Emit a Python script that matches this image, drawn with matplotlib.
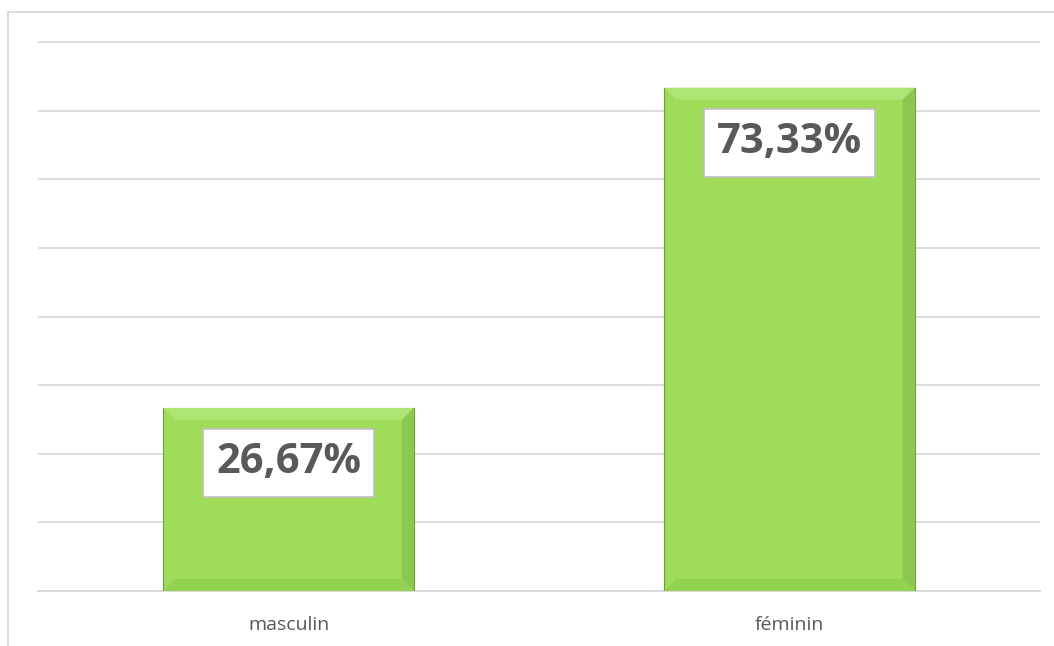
import matplotlib.pyplot as plt
from matplotlib.lines import Line2D
from matplotlib.patches import Polygon

# data
categories = ['masculin', 'féminin']
values = [26.67, 73.33]
labels = ['26,67%', '73,33%']

plt.rcParams['font.family'] = ['Open Sans', 'DejaVu Sans']

fig = plt.figure(figsize=(10.54, 6.46), dpi=100)
ymax = 80.1
px_per_unit = (591 - 42) / 80
ax = fig.add_axes([38 / 1054, 1 - 591 / 646, 1002 / 1054, ymax * px_per_unit / 646])

x = range(len(categories))
bars = ax.bar(x, values, width=0.5, color='#9EDC5A', edgecolor='#6F9E3C',
              linewidth=0.8, zorder=3)

ax.set_xlim(-0.5, len(categories) - 0.5)
ax.set_ylim(0, ymax)
ax.set_yticks(range(0, 81, 10))
ax.yaxis.grid(True, color='#D9D9D9', linewidth=1.3, zorder=0)
ax.tick_params(axis='y', left=False, labelleft=False)
ax.tick_params(axis='x', length=0, pad=18, labelsize=14, labelcolor='#595959')
ax.set_xticks(list(x))
ax.set_xticklabels(categories)
for s in ['top', 'right', 'left']:
    ax.spines[s].set_visible(False)
ax.spines['bottom'].set_color('#D9D9D9')
ax.spines['bottom'].set_linewidth(1.3)

# bevel look: lighter top band, darker right band
bx = 12 / 501
by = 12 / px_per_unit
for b in bars:
    x0, w, h = b.get_x(), b.get_width(), b.get_height()
    ax.add_patch(Polygon([(x0, h), (x0 + w, h), (x0 + w - bx, h - by), (x0 + bx, h - by)],
                         closed=True, color='#AEE473', lw=0, zorder=4))
    ax.add_patch(Polygon([(x0 + w, h), (x0 + w, 0), (x0 + w - bx, by), (x0 + w - bx, h - by)],
                         closed=True, color='#8CC84E', lw=0, zorder=4))
    ax.add_patch(Polygon([(x0, 0), (x0 + w, 0), (x0 + w - bx, by), (x0 + bx, by)],
                         closed=True, color='#93D352', lw=0, zorder=4))

for i, (v, lab) in enumerate(zip(values, labels)):
    ax.annotate(lab, (i, v), xytext=(0, -55), textcoords='offset pixels',
                ha='center', va='center', fontsize=30, fontweight='bold',
                color='#595959', zorder=6,
                bbox=dict(boxstyle='square,pad=0.32', fc='white', ec='#BFBFBF', lw=1.2))

# outer chart frame
fig.add_artist(Line2D([8 / 1054, 8 / 1054], [0, 1 - 12 / 646], color='#D9D9D9', lw=1.3))
fig.add_artist(Line2D([8 / 1054, 1], [1 - 12 / 646, 1 - 12 / 646], color='#D9D9D9', lw=1.3))

fig.savefig('out.png', dpi=100)
